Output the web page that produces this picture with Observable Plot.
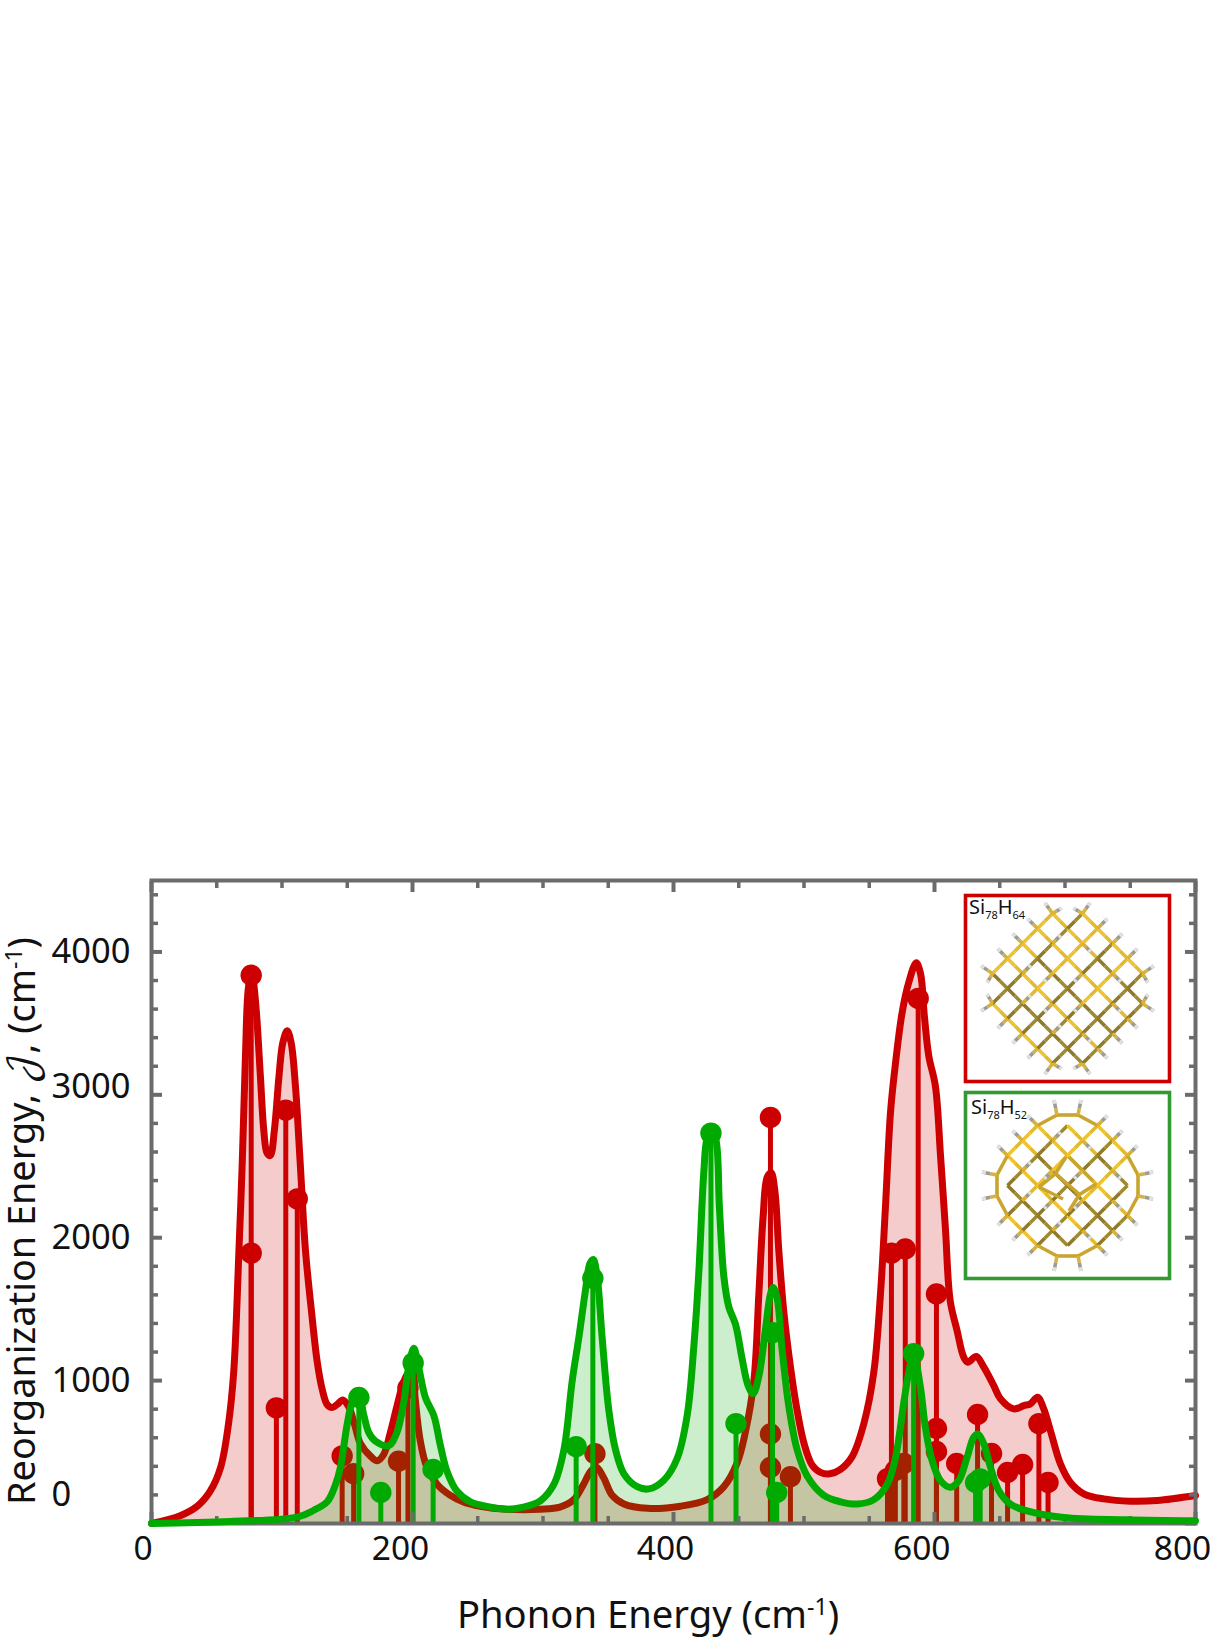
<!DOCTYPE html>
<html><head><meta charset="utf-8">
<script src="https://cdn.jsdelivr.net/npm/d3@7"></script>
<script src="https://cdn.jsdelivr.net/npm/@observablehq/plot@0.6"></script>
<style>
html,body{margin:0;padding:0;background:#fff}
#wrap{position:relative;width:1213px;height:1638px;overflow:hidden}
#wrap svg{position:absolute;display:block}
</style></head><body><div id="wrap"></div>
<script>
const FONT = "'Noto Sans', sans-serif";
const xDomain = [0, 800];
const yDomain = [0, 4500];
const xMajor = [0, 200, 400, 600, 800];
const xMinor = [50, 100, 150, 250, 300, 350, 450, 500, 550, 650, 700, 750];
const yMajor = [0, 1000, 2000, 3000, 4000];
const yMinor = [200,400,600,800,1200,1400,1600,1800,2200,2400,2600,2800,3200,3400,3600,3800,4200,4400];
const xTickLabels = [0, 200, 400, 600, 800];
const yTickLabels = [0, 1000, 2000, 3000, 4000];

const redCurveX = [0,22,35,45,53,59,63,67,69.5,72,74,76.4,78,80.4,83.5,86,88.6,91,94.2,97.6,100.6,104,107,110.3,114,118,123,127,130.8,134.6,138.4,142.3,146.6,151,155.5,160,168,173,178,183,188,193,197,200,202,206,211,219,229,239,252,272,298,313,323.6,331,336.4,341,346.6,353,362,380,405.4,425.8,438.6,448.8,455,461.6,465.4,468.7,471.8,474.8,477.6,480.7,484.5,489.7,494.8,500,506.2,512.6,519.8,528,537,545.8,553.5,558.6,562.4,566.3,570,575.2,580.3,586,589.3,592.3,595.6,600.7,604.6,608.4,612,617.3,622.4,625.5,632,637.8,645.4,650.5,660.7,668.4,673.5,679,683.7,688.8,696.5,704,714.4,729.7,750,770.6,800];
const redCurveY = [0,55,121,227,394,697,1060,1909,2515,3273,3727,3860,3800,3576,3121,2757,2591,2575,2757,3121,3364,3448,3364,3060,2515,1909,1450,1130,939,833,812,833,864,818,697,561,470,439,485,636,818,985,1060,1090,879,576,394,273,197,151,121,100,100,115,167,273,364,394,318,197,136,106,121,167,258,424,636,1000,1606,2151,2424,2455,2333,1909,1485,1091,788,561,409,358,348,379,470,697,1060,1606,2212,2879,3212,3576,3788,3924,3848,3545,3273,3060,2576,2060,1561,1350,1164,1129,1169,1094,965,873,802,825,837,884,802,651,417,289,208,172,156,161,196];

const greenCurveX = [0,60,111.6,124,134.6,141,144.8,150,154,158.9,162.7,166.5,171.6,181.8,188,193.3,197,201,204.8,210,216.3,221.4,226.5,234,244.4,259.7,275,290,298,308.3,316,322.4,327.5,332.6,335.9,338.5,341.5,345.3,350.5,355.6,362,372.2,381.1,392.6,402.8,410.5,415.6,419.4,423.2,425.8,428.9,432.2,435.2,438.6,442.4,447.5,452.6,457,461,465.4,470.5,474.3,476.4,479.4,483.3,488.4,494.8,502.4,515.2,528,540.7,553.5,563.7,570,576.5,580.3,584,589.2,593,598.2,604.6,612.2,618.6,625,630,633.2,637.8,642.9,649.2,658.2,671,699,747.6,800];
const greenCurveY = [0,14,45,91,152,273,394,697,850,894,758,636,576,545,636,848,1090,1227,1090,879,757,545,364,227,151,115,100,127,158,273,515,1000,1303,1636,1818,1848,1727,1303,788,515,348,258,242,303,455,758,1242,1758,2455,2697,2742,2697,2212,1727,1515,1394,1152,970,909,1030,1364,1606,1652,1576,1212,818,515,333,197,152,136,167,273,455,848,1060,1189,954,674,440,300,254,300,464,604,627,557,394,231,135,89,42,26,19];

const redStemX = [76.4,76.4,95.7,102.9,111.7,146.1,154.9,189.3,196.5,339.8,474.3,474.3,474.3,489.6,564,567,570,576.5,577.6,587.5,601.5,601.5,601.5,617,633,643.7,656,667.5,680,687];
const redStemY = [3837,1892,809,2893,2272,473,349,436,948,488,2842,626,392,327,314,1892,371,420,1921,3675,1606,665,504,420,763,490,357,413,699,287];
const greenStemX = [158.9,175.7,200.5,215.8,325.4,338.2,428.7,447.9,475.9,479.1,584,631.5,635];
const greenStemY = [882,217,1124,378,538,1716,2732,699,1335,217,1189,287,312];

const insetNames = [["Si","78","H","64"],["Si","78","H","52"]];

const RED = "#cc0000", GREEN = "#00aa00", GREY = "#6b6b6b", INK = "#111";
const curve = "catmull-rom";
const xLabelShift = {0:-8.5,200:-12,400:-8,600:-12.7,800:-13};
const yLabelShift = {0:-29,1000:0,2000:0,3000:-8,4000:0};

const redCurve = redCurveX.map((x,i)=>({x,y:redCurveY[i]}));
const greenCurve = greenCurveX.map((x,i)=>({x,y:greenCurveY[i]}));
const redStems = redStemX.map((x,i)=>({x,y:redStemY[i]}));
const greenStems = greenStemX.map((x,i)=>({x,y:greenStemY[i]}));

const W=1213,H=1638;
const main = Plot.plot({
  width:W,height:H,marginTop:880,marginBottom:115,marginLeft:151,marginRight:18,
  style:{fontFamily:FONT,background:"transparent",overflow:"visible"},
  x:{domain:xDomain,axis:null}, y:{domain:yDomain,axis:null},
  marks:[
    Plot.areaY(redCurve,{x:"x",y:"y",fill:RED,fillOpacity:.2,curve}),
    Plot.line(redCurve,{x:"x",y:"y",stroke:RED,strokeWidth:7,curve,strokeLinejoin:"round"}),
    Plot.ruleX(redStems,{x:"x",y1:0,y2:"y",stroke:RED,strokeWidth:5}),
    Plot.dot(redStems,{x:"x",y:"y",r:10.7,fill:RED}),
    Plot.areaY(greenCurve,{x:"x",y:"y",fill:GREEN,fillOpacity:.2,curve}),
    Plot.ruleX(greenStems,{x:"x",y1:0,y2:"y",stroke:GREEN,strokeWidth:5}),
    Plot.dot(greenStems,{x:"x",y:"y",r:10.7,fill:GREEN}),
    Plot.frame({stroke:GREY,strokeWidth:4}),
    Plot.axisX(xMajor,{anchor:"bottom",tickSize:-11,stroke:GREY,strokeWidth:4,text:null,label:null}),
    Plot.axisX(xMinor,{anchor:"bottom",tickSize:-7,stroke:GREY,strokeWidth:3.5,text:null,label:null}),
    Plot.axisX(xMajor,{anchor:"top",tickSize:-11,stroke:GREY,strokeWidth:4,text:null,label:null}),
    Plot.axisX(xMinor,{anchor:"top",tickSize:-7,stroke:GREY,strokeWidth:3.5,text:null,label:null}),
    Plot.axisY(yMajor,{anchor:"left",tickSize:-11,stroke:GREY,strokeWidth:4,text:null,label:null}),
    Plot.axisY(yMinor,{anchor:"left",tickSize:-7,stroke:GREY,strokeWidth:3.5,text:null,label:null}),
    Plot.axisY(yMajor,{anchor:"right",tickSize:-11,stroke:GREY,strokeWidth:4,text:null,label:null}),
    Plot.axisY(yMinor,{anchor:"right",tickSize:-7,stroke:GREY,strokeWidth:3.5,text:null,label:null}),
    Plot.line(greenCurve,{x:"x",y:"y",stroke:GREEN,strokeWidth:7,curve,strokeLinejoin:"round"}),
    ...xTickLabels.map(v=>Plot.text([v],{x:d=>d,frameAnchor:"bottom",dy:36,dx:xLabelShift[v],text:d=>String(d),fontSize:33.5,fill:INK})),
    ...yTickLabels.map(v=>Plot.text([v],{y:d=>d,frameAnchor:"left",dx:-100,dy:yLabelShift[v],textAnchor:"start",text:d=>String(d),fontSize:34.5,fill:INK}))
  ]
});
main.style.left="0";main.style.top="0";
document.getElementById("wrap").appendChild(main);

// axis titles with true superscripts
const svg = d3.select(main);
function title(x,y,rot,size,parts){
  const t = svg.append("text").attr("transform",`translate(${x},${y}) rotate(${rot})`)
    .attr("text-anchor","middle").attr("font-size",size).attr("fill",INK).attr("font-family",FONT);
  parts.forEach(p=>{
    const s=t.append("tspan").text(p.t);
    if(p.size)s.attr("font-size",p.size);
    if(p.dy)s.attr("dy",p.dy);
    if(p.font)s.attr("font-family",p.font);
  });
}
title(648,1628,0,38.2,[{t:"Phonon Energy (cm"},{t:"-1",size:23,dy:-13},{t:")",dy:13}]);
title(35,1221,-90,37.8,[{t:"Reorganization Energy, "},{t:"\u{1D4A5}",font:"'DejaVu Math TeX Gyre','Noto Sans Math','DejaVu Serif',serif"},{t:", (cm"},{t:"-1",size:23,dy:-13},{t:")",dy:13}]);

// insets: stick lattices with their own small scales
function lattice(kind){
  const bonds=[],hs=[];
  const tip=(a,b)=>(a===0&&Math.abs(b)===6)||(b===0&&Math.abs(a)===6);
  const ring=(a,b)=>(Math.abs(a)===1&&Math.abs(b)===5)||(Math.abs(a)===5&&Math.abs(b)===1);
  const ok=(a,b)=>Math.abs(a)+Math.abs(b)<=6&&!tip(a,b)&&!(kind===1&&ring(a,b));
  for(let a=-5;a<=5;a++)for(let b=-5;b<=5;b++){
    if((a+b)%2||!ok(a,b))continue;
    [[1,1],[1,-1]].forEach(([da,db],k)=>{
      const a2=a+da,b2=b+db;
      if(!ok(a2,b2))return;
      const mx=(a+a2)/2,my=(b+b2)/2;
      const dark=k===1?(((a+b)%4===0)||my>1):(((a-b)%4===0)&&my>-2);
      bonds.push({a1:a,b1:b,a2:mx,b2:my,c:dark?"#8f7a2c":"#efc22f"});
      bonds.push({a1:mx,b1:my,a2,b2,c:dark?"#a08a30":"#e3b92f"});
    });
    if(Math.abs(a)+Math.abs(b)===6){
      const sx=Math.sign(a),sy=Math.sign(b);
      if(Math.abs(a)===1||Math.abs(a)===5){
        if(Math.abs(a)===1){hs.push([a,b,sx*.5,sy*.7]);hs.push([a,b,-sx*.6,sy*.35]);}
        else{hs.push([a,b,sx*.75,sy*.5]);hs.push([a,b,sx*.35,-sy*.6]);}
      } else hs.push([a,b,sx*.65,sy*.65]);
    } else if(Math.abs(a)+Math.abs(b)===4&&a%2&&b%2){
      hs.push([a,b,.55,.55*(a>0?1:-1)]);
    } else if(Math.abs(a)+Math.abs(b)===2&&a%2){
      hs.push([a,b,-.55,.55]);
    }
  }
  if(kind===1){
    const c="#c9a530";
    const rs=[[-2,-4,-.7,-4.7],[-.7,-4.7,.7,-4.7],[.7,-4.7,2,-4],[-2,4,-.7,4.7],[-.7,4.7,.7,4.7],[.7,4.7,2,4],
      [-4,-2,-4.7,-.7],[-4.7,-.7,-4.7,.7],[-4.7,.7,-4,2],[4,-2,4.7,-.7],[4.7,-.7,4.7,.7],[4.7,.7,4,2],
      [-.8,-.8,.8,.6],[-.8,-.8,-.1,-1.9],[-.8,-.8,-1.9,.1],[.8,.6,1.9,-.1],[.8,.6,.1,1.7],[-1.9,.1,-.3,.9],[.1,-1.9,1.7,-.3]];
    rs.forEach(r=>bonds.push({a1:r[0],b1:r[1],a2:r[2],b2:r[3],c}));
    [[-.7,-4.7,-.2,-1],[.7,-4.7,.2,-1],[-.7,4.7,-.2,1],[.7,4.7,.2,1],[-4.7,-.7,-1,-.2],[-4.7,.7,-1,.2],[4.7,-.7,1,-.2],[4.7,.7,1,.2]]
      .forEach(h=>hs.push(h));
  }
  const hLinks=hs.map(([a,b,da,db])=>({a1:a,b1:b,a2:a+da,b2:b+db}));
  return {bonds,hLinks};
}
[[895,"#cc0000",0],[1092,"#339933",1]].forEach(([top,col,kind],i)=>{
  const {bonds,hLinks}=lattice(kind);
  const p=Plot.plot({
    width:208,height:190,margin:2,
    style:{background:"#fff",overflow:"visible"},
    x:{domain:[-6.8,6.8],axis:null},y:{domain:[-6.2,6.2],axis:null,reverse:true},
    marks:[
      Plot.link(bonds,{x1:"a1",y1:"b1",x2:"a2",y2:"b2",stroke:"c",strokeWidth:3.6}),
      Plot.link(hLinks,{x1:"a1",y1:"b1",x2:d=>d.a1+(d.a2-d.a1)*.45,y2:d=>d.b1+(d.b2-d.b1)*.45,stroke:"#d8b23a",strokeWidth:3.6}),
      Plot.link(hLinks,{x1:d=>d.a1+(d.a2-d.a1)*.45,y1:d=>d.b1+(d.b2-d.b1)*.45,x2:"a2",y2:"b2",stroke:"#9c9c96",strokeWidth:3.6}),
      Plot.link(hLinks,{x1:d=>d.a1+(d.a2-d.a1)*.75,y1:d=>d.b1+(d.b2-d.b1)*.75,x2:"a2",y2:"b2",stroke:"#e2e2e2",strokeWidth:3.6}),
      Plot.frame({stroke:col,strokeWidth:3.6})
    ]
  });
  p.style.left="963px";p.style.top=(top-2)+"px";
  document.getElementById("wrap").appendChild(p);
  const t=d3.select(p).append("text").attr("x",i?8:6).attr("y",i?24:21).attr("font-size",20).attr("fill",INK).attr("font-family",FONT).attr("text-anchor","start");
  const n=insetNames[i];
  t.append("tspan").text(n[0]);
  t.append("tspan").text(n[1]).attr("font-size",11).attr("dy",5);
  t.append("tspan").text(n[2]).attr("dy",-5);
  t.append("tspan").text(n[3]).attr("font-size",11).attr("dy",5);
});
</script></body></html>
